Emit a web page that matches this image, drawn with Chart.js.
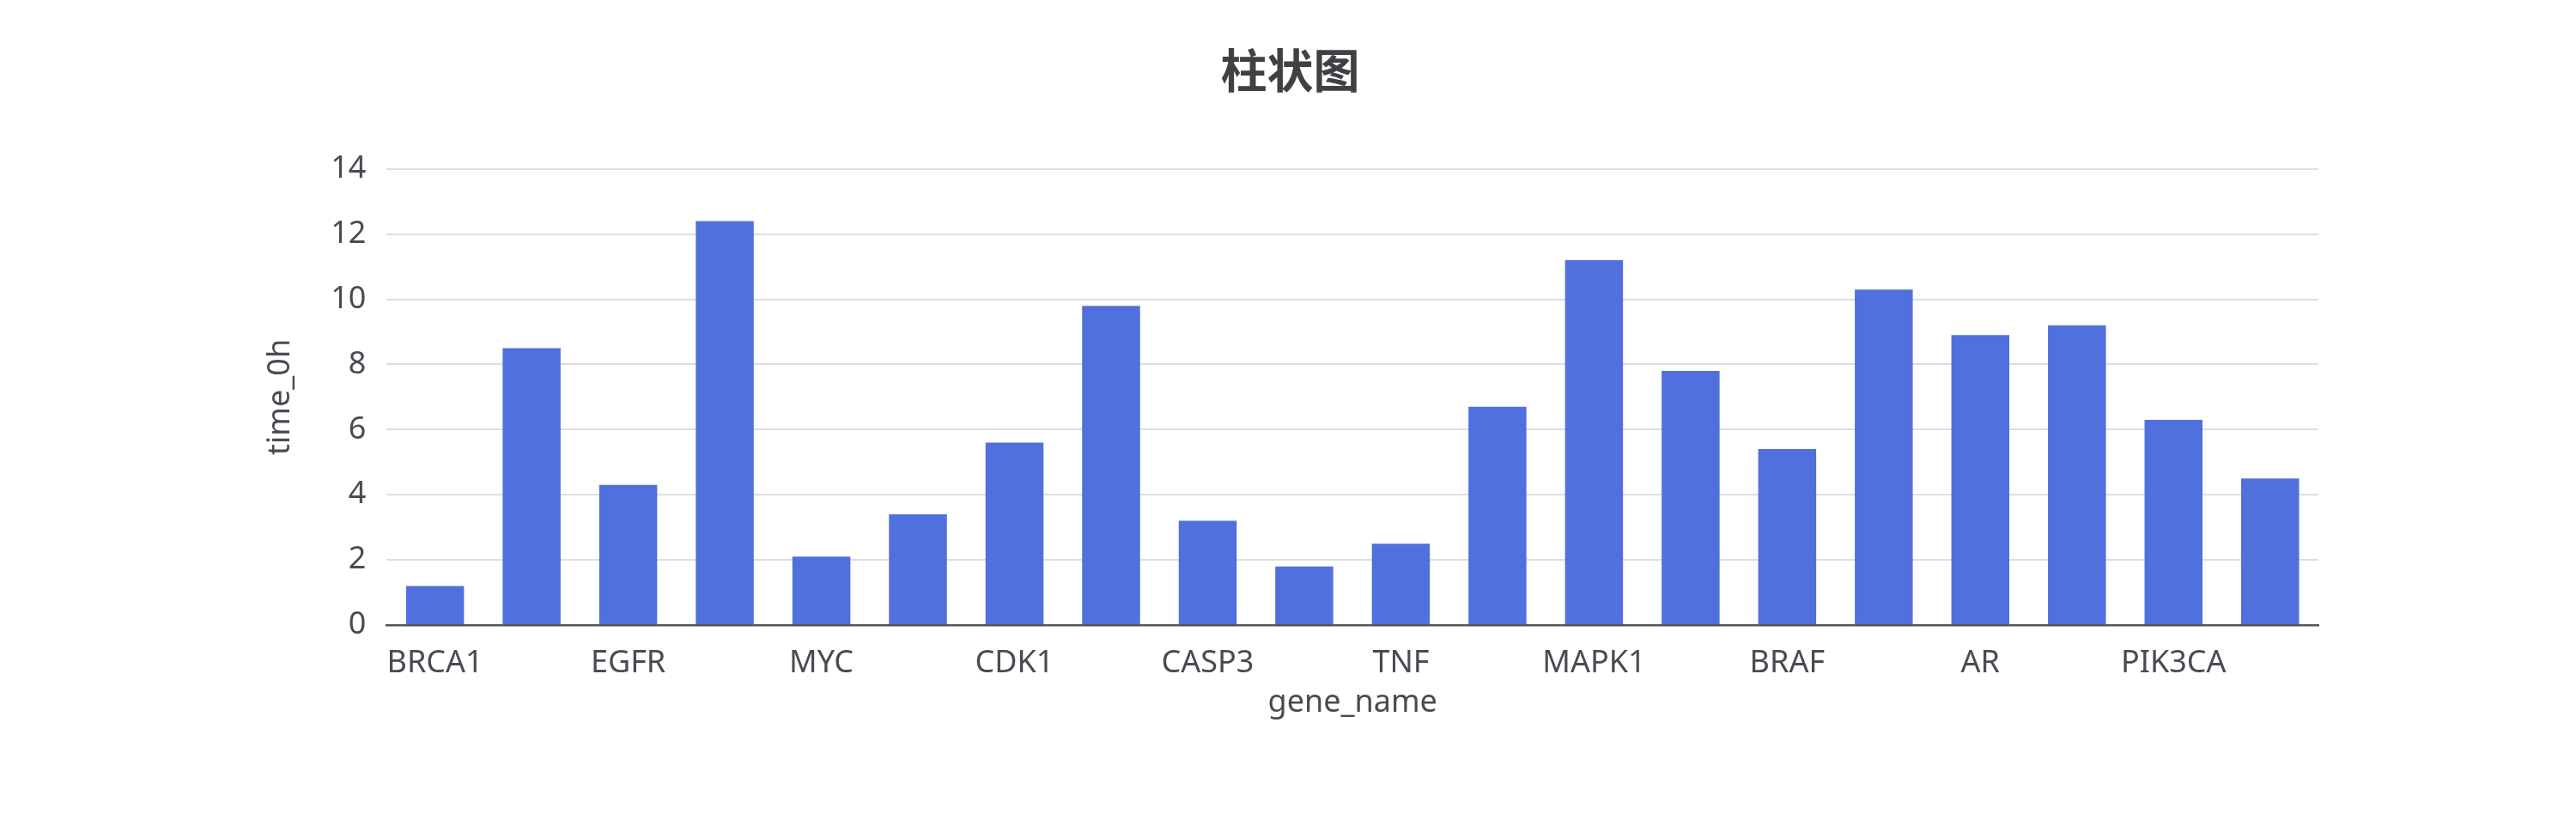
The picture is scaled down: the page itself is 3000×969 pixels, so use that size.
<!DOCTYPE html>
<html>
<head>
<title>柱状图</title>
<meta charset="UTF-8">
<script src="https://cdn.jsdelivr.net/npm/chart.js"></script>
<style>
  html, body { margin: 0; padding: 0; background: #ffffff; }
  #wrap { width: 3000px; height: 969px; }
</style>
</head>
<body>

<div id="wrap"><canvas id="barChart" width="3000" height="969"></canvas></div>

<script>
// gene names (only every other one is shown on the axis)
let geneNames = ["BRCA1", "TP53", "EGFR", "KRAS", "MYC", "PTEN", "CDK1", "AKT1", "CASP3", "VEGFA",
                 "TNF", "IL6", "MAPK1", "STAT3", "BRAF", "ERBB2", "AR", "MTOR", "PIK3CA", "JAK2"];
let time0h = [1.2, 8.5, 4.3, 12.4, 2.1, 3.4, 5.6, 9.8, 3.2, 1.8,
              2.5, 6.7, 11.2, 7.8, 5.4, 10.3, 8.9, 9.2, 6.3, 4.5];
let yTicks = [0, 2, 4, 6, 8, 10, 12, 14];

let textColor = "#4a4b52";
let baseFont = "'Noto Sans', 'Open Sans', sans-serif";

let ctx = document.getElementById("barChart").getContext("2d");
new Chart(ctx, {
  type: "bar",
  data: {
    labels: geneNames,
    datasets: [{
      label: "time_0h",
      data: time0h,
      backgroundColor: "#5070dd",
      borderWidth: 0,
      barPercentage: 1,
      categoryPercentage: 0.6
    }]
  },
  options: {
    responsive: false,
    animation: false,
    layout: { padding: { top: 48, left: 305, right: 300, bottom: 127 } },
    plugins: {
      legend: { display: false },
      tooltip: { enabled: false },
      title: {
        display: true,
        text: "柱状图",
        color: "#404045",
        font: { family: "'Noto Sans CJK SC', sans-serif", size: 54, weight: "bold", lineHeight: 1.2 },
        padding: { top: 2, bottom: 82 }
      }
    },
    scales: {
      x: {
        grid: { display: false, drawTicks: false },
        border: { display: true, color: "#54555a", width: 2.5 },
        ticks: {
          color: textColor,
          font: { family: baseFont, size: 36, lineHeight: 1.2 },
          padding: 23.4,
          maxRotation: 0,
          autoSkip: false,
          callback: function (value, index) {
            return index % 2 === 0 ? this.getLabelForValue(value) : "";
          }
        },
        title: {
          display: true,
          text: "gene_name",
          color: textColor,
          // small line box so the axis does not take extra height
          font: { family: baseFont, size: 36, lineHeight: "2px" },
          padding: { top: 0, bottom: 22 }
        }
      },
      y: {
        min: yTicks[0],
        max: yTicks[yTicks.length - 1],
        afterBuildTicks: function (axis) {
          axis.ticks = yTicks.map(v => ({ value: v }));
        },
        grid: { color: "#dbdee4", lineWidth: 2, drawTicks: false },
        border: { display: false },
        ticks: {
          color: textColor,
          font: { family: baseFont, size: 36 },
          padding: 24
        },
        title: {
          display: true,
          text: "time_0h",
          color: textColor,
          font: { family: baseFont, size: 36, lineHeight: 1.2 },
          padding: { top: 0, bottom: 13 }
        }
      }
    }
  }
});
</script>
</body>
</html>
